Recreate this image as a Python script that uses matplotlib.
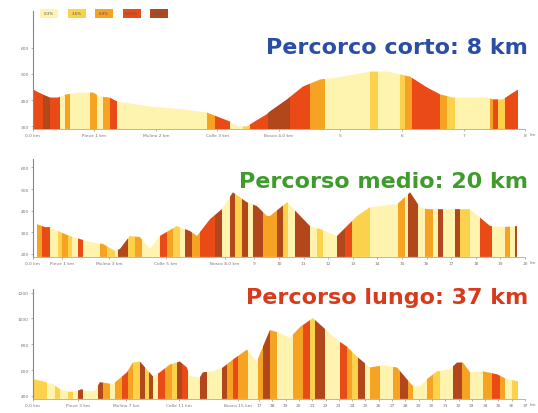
import numpy as np
import matplotlib
matplotlib.use('Agg')
import matplotlib.pyplot as plt
from matplotlib.patches import Rectangle

# colori delle classi di pendenza (dal piu' facile al piu' duro)
colori = ['#FFF3B0', '#FCD24C', '#F6A323', '#EA4A16', '#B3471C']
classi = ['0-3%', '3-6%', '6-9%', '9-12%', '>12%']

# --- percorso corto (8 km) ---
km1 = [0.00, 0.16, 0.28, 0.41, 0.55, 0.76, 0.98, 1.09, 1.25, 1.37, 1.90, 2.44, 2.83, 2.99, 3.20,
       3.32, 3.48, 3.58, 3.80, 3.85, 4.13, 4.39, 4.67, 4.94, 5.48, 5.76, 6.13, 6.41, 6.62, 6.83,
       7.38, 7.48, 7.64, 7.76, 7.89]
quota1 = [441, 422, 410, 410, 422, 429, 429, 414, 410, 395, 376, 365, 353, 338, 319,
          300, 300, 315, 346, 357, 403, 452, 479, 486, 509, 509, 490, 448, 422, 410,
          410, 403, 403, 422, 441]
bande1 = [0, 0.16, 0.28, 0.44, 0.52, 0.60, 0.93, 1.04, 1.14, 1.25, 1.37, 2.83, 2.96, 3.20, 3.41,
          3.53, 3.82, 4.18, 4.50, 4.75, 5.48, 5.61, 5.97, 6.05, 6.16, 6.62, 6.73, 6.86, 7.43,
          7.48, 7.56, 7.67, 7.89]
classe1 = [3, 4, 3, 0, 2, 0, 2, 0, 2, 3, 0, 2, 3, 0, 1, 3, 4, 3, 2, 0,
           1, 0, 1, 2, 3, 2, 1, 0, 2, 3, 1, 3]

# --- percorso medio (20 km) ---
km2 = [0.16, 0.49, 0.69, 1.02, 1.50, 1.91, 2.32, 2.85, 3.33, 3.54, 3.94, 4.35, 4.76, 5.16, 5.85,
       6.38, 6.67, 7.20, 7.68, 8.13, 8.70, 9.11, 9.51, 9.63, 10.33, 11.26, 11.67, 12.36, 13.17,
       13.70, 14.80, 15.33, 15.73, 16.02, 17.24, 17.76, 18.58, 19.11, 19.67]
quota2 = [338, 324, 324, 306, 283, 269, 255, 246, 214, 223, 283, 278, 223, 283, 329,
          306, 283, 361, 407, 485, 439, 421, 375, 375, 439, 329, 315, 283, 375,
          416, 430, 485, 416, 407, 407, 407, 329, 324, 329]
bande2 = [0.16, 0.37, 0.69, 1.02, 1.18, 1.42, 1.59, 1.83, 2.03, 2.72, 3.01, 3.33, 3.46, 3.86,
          4.15, 4.43, 5.16, 5.45, 5.69, 5.98, 6.18, 6.46, 6.79, 7.40, 7.68, 8.01, 8.21, 8.50,
          8.74, 8.94, 9.35, 9.92, 10.16, 10.37, 10.65, 11.26, 11.54, 11.79, 12.36, 12.68, 12.97,
          13.70, 14.84, 15.12, 15.24, 15.65, 15.93, 16.26, 16.46, 16.67, 17.15, 17.36, 17.76,
          18.17, 18.66, 19.19, 19.39, 19.59, 19.72]
classe2 = [2, 3, 0, 1, 2, 1, 0, 3, 0, 2, 1, 0, 4, 1, 2, 0, 3, 2, 1, 0,
           4, 2, 3, 4, 0, 4, 1, 4, 0, 4, 2, 4, 1, 0, 4, 0, 1, 0, 4, 3,
           1, 0, 2, 0, 4, 0, 2, 0, 4, 0, 4, 1, 0, 3, 0, 2, 0, 4]

# --- percorso lungo (37 km) ---
km3 = [0.00, 0.75, 1.50, 2.03, 2.78, 3.31, 3.68, 3.91, 4.66, 5.04, 6.02, 7.07, 7.52, 8.05, 8.57,
       9.02, 9.55, 10.30, 11.05, 11.58, 11.80, 12.56, 12.78, 13.53, 14.29, 15.04, 16.09, 16.84,
       17.29, 17.82, 18.57, 19.32, 20.08, 21.05, 21.80, 22.86, 23.61, 24.36, 25.34, 26.32,
       27.37, 28.12, 28.57, 29.10, 29.62, 30.38, 31.35, 31.88, 32.33, 32.86, 33.83, 34.89,
       35.64, 36.47]
quota3 = [530, 514, 492, 453, 431, 438, 453, 438, 438, 507, 492, 583, 659, 667, 606,
          553, 583, 644, 667, 621, 553, 545, 583, 591, 621, 682, 759, 667,
          781, 911, 888, 850, 934, 1003, 934, 835, 782, 705, 621, 637,
          621, 530, 476, 476, 530, 591, 606, 659, 659, 583, 591, 568,
          530, 514]
bande3 = [0, 1.05, 1.65, 2.03, 2.63, 3.01, 3.38, 3.76, 4.89, 5.26, 5.79, 6.17, 6.69, 7.14, 7.52,
          8.05, 8.42, 8.72, 9.02, 9.40, 9.92, 10.45, 10.83, 11.20, 11.65, 12.56, 13.08, 14.21,
          14.59, 15.04, 15.41, 16.17, 16.92, 17.29, 17.82, 18.35, 19.55, 20.30, 20.83, 21.20,
          21.95, 23.08, 23.61, 23.98, 24.44, 24.96, 25.34, 26.09, 27.07, 27.59, 28.20, 28.57,
          29.62, 30.08, 30.60, 31.58, 32.26, 32.86, 33.83, 34.51, 35.11, 35.49, 36.02, 36.47]
classe3 = [1, 0, 1, 0, 1, 0, 4, 0, 4, 2, 0, 2, 3, 2, 1, 4, 1, 4, 0, 3,
           2, 1, 4, 3, 0, 4, 0, 4, 2, 3, 2, 0, 2, 4, 2, 0, 2, 3, 1, 4,
           0, 3, 2, 1, 4, 0, 2, 0, 2, 4, 2, 0, 2, 1, 0, 4, 2, 0, 2, 3,
           2, 0, 1]

# tick
yt1 = [300, 400, 500, 600]
yt2 = [200, 300, 400, 500, 600]
yt3 = [400, 600, 800, 1000, 1200]
xt1 = [0, 1, 2, 3, 4, 5, 6, 7, 8]
xl1 = ['0,0 km', 'Pieve 1 km', 'Mulino 2 km', 'Colle 3 km', 'Bosco 4,0 km', '5', '6', '7', '8']
xt2 = [0, 1.2, 3.1, 5.4, 7.8, 9, 10, 11, 12, 13, 14, 15, 16, 17, 18, 19, 20]
xl2 = ['0,0 km', 'Pieve 1 km', 'Mulino 3 km', 'Colle 5 km', 'Bosco 8,0 km',
       '9', '10', '11', '12', '13', '14', '15', '16', '17', '18', '19', '20']
xt3 = [0, 3.4, 7, 11, 15.4] + list(range(17, 38))
xl3 = ['0,0 km', 'Pieve 3 km', 'Mulino 7 km', 'Colle 11 km', 'Bosco 15 km'] + \
      [str(k) for k in range(17, 38)]

percorsi = [
    (km1, quota1, bande1, classe1, (290, 740), 8.0, yt1, xt1, xl1,
     'Percorco corto: 8 km', '#2A4DA6', [0.061, 0.686, 0.915, 0.285], 0.884),
    (km2, quota2, bande2, classe2, (186, 640), 20.0, yt2, xt2, xl2,
     'Percorso medio: 20 km', '#3F9C2C', [0.061, 0.377, 0.915, 0.237], 0.560),
    (km3, quota3, bande3, classe3, (377, 1230), 37.0, yt3, xt3, xl3,
     'Percorso lungo: 37 km', '#D83A1C', [0.061, 0.034, 0.915, 0.266], 0.280),
]

fig = plt.figure(figsize=(5.38, 4.14), dpi=100)

for km, quota, bande, classe, ylim, xmax, yt, xt, xl, titolo, col, pos, ytit in percorsi:
    ax = fig.add_axes(pos)
    ax.set_xlim(0, xmax)
    ax.set_ylim(*ylim)
    # sagoma del profilo usata come maschera per le bande colorate
    xs = [km[0]] + list(km) + [km[-1]]
    ys = [ylim[0]] + list(quota) + [ylim[0]]
    sagoma = ax.fill(xs, ys, facecolor='none', edgecolor='none')[0]
    for a, b, c in zip(bande[:-1], bande[1:], classe):
        r = ax.axvspan(a, b, color=colori[c], lw=0)
        r.set_clip_path(sagoma)
    for s in ['top', 'right']:
        ax.spines[s].set_visible(False)
    ax.spines['left'].set_color('#888888')
    ax.spines['bottom'].set_color('#aaaaaa')
    ax.spines['left'].set_linewidth(0.8)
    ax.spines['bottom'].set_linewidth(0.6)
    ax.set_yticks(yt)
    ax.set_xticks(xt)
    ax.set_xticklabels(xl)
    ax.tick_params(labelsize=3.2, colors='#777777', length=1.5, width=0.4, pad=1.5)
    ax.annotate('km', xy=(1.0, 0), xycoords='axes fraction', xytext=(3, -2),
                textcoords='offset points', fontsize=3, color='#777777', va='top')
    fig.text(0.982, ytit, titolo, ha='right', va='center', fontsize=16,
             fontweight='bold', color=col)

# legenda pendenze in alto
for i in range(5):
    x0 = (40 + i * 27.5) / 538
    fig.patches.append(Rectangle((x0, 0.955), 18 / 538, 9 / 414, transform=fig.transFigure,
                                 facecolor=colori[i], edgecolor='none'))
    fig.text(x0 + 9 / 538, 0.955 + 4.5 / 414, classi[i], ha='center', va='center',
             fontsize=2.8, color='#555555')

plt.savefig('out.png', dpi=100)
